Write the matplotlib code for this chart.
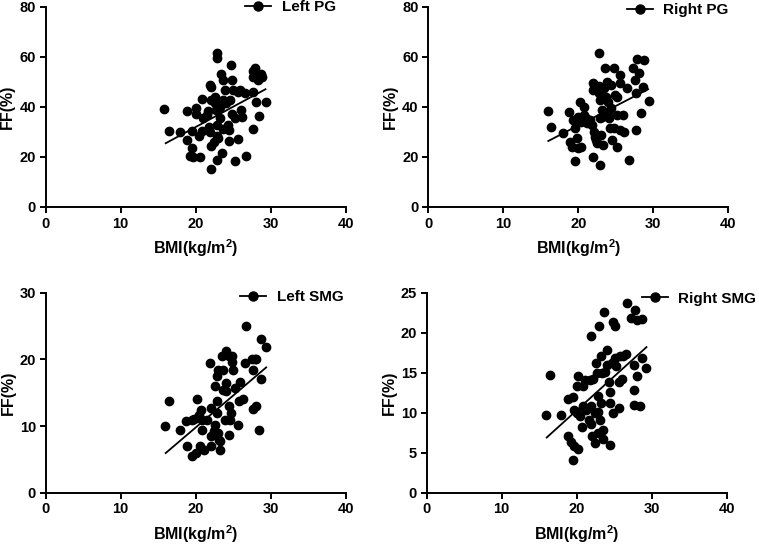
import matplotlib
matplotlib.use('Agg')
import matplotlib.pyplot as plt
from matplotlib.lines import Line2D

plt.rcParams['font.family'] = ['Liberation Sans', 'DejaVu Sans']
plt.rcParams['font.weight'] = 'bold'
plt.rcParams['mathtext.fontset'] = 'custom'
plt.rcParams['mathtext.bf'] = 'Liberation Sans:bold'
plt.rcParams['mathtext.rm'] = 'Liberation Sans:bold'

# Left parotid gland
left_pg_bmi = [15.8, 16.4, 17.9, 18.8, 18.9, 19.5, 19.5, 19.2, 19.7, 20.1, 20.0, 20.4, 20.6, 20.8,
               21.0, 20.8, 21.5, 21.7, 21.8, 21.9, 22.0, 22.0, 21.9, 22.0, 22.4, 22.0, 22.6, 22.6,
               22.7, 22.8, 22.8, 22.8, 22.9, 22.8, 23.3, 23.3, 23.4, 23.5, 23.6, 23.7, 23.6, 23.9,
               24.0, 24.3, 24.5, 24.6, 24.5, 24.7, 24.9, 24.9, 25.2, 25.2, 25.6, 25.7, 25.9, 26.0,
               26.2, 26.6, 26.7, 27.6, 27.7, 27.7, 27.9, 27.7, 28.0, 28.3, 28.4, 28.7, 28.8, 29.4,
               25.0, 23.0]
left_pg_ff = [39.2, 30.4, 30.1, 38.4, 26.8, 30.5, 23.5, 20.5, 20.1, 39.5, 37.2, 28.4, 20.1, 43.1,
              35.5, 30.4, 36.8, 38.4, 32.1, 48.8, 48.1, 42.8, 30.1, 24.4, 26.1, 15.2, 44.1, 41.5,
              38.8, 32.8, 28.4, 61.5, 59.5, 18.8, 40.1, 35.5, 53.2, 21.7, 50.8, 42.8, 31.2, 46.8,
              41.7, 32.8, 30.8, 42.8, 26.5, 56.8, 50.8, 37.1, 35.5, 18.4, 46.1, 27.1, 46.8, 38.8,
              36.1, 45.5, 20.5, 54.5, 46.1, 31.2, 55.5, 52.1, 41.9, 50.8, 36.4, 53.2, 51.9, 41.9,
              46.8, 27.5]
left_pg_fit_x = [16.0, 29.3]
left_pg_fit_y = [25.5, 47.1]

# Right parotid gland
right_pg_bmi = [15.9, 16.4, 17.9, 18.8, 18.9, 19.2, 19.5, 19.3, 19.6, 19.8, 20.0, 20.0, 20.2, 20.4,
                20.4, 20.8, 20.8, 21.0, 21.1, 21.6, 21.8, 22.0, 22.0, 22.0, 22.1, 22.2, 22.4, 22.5,
                22.7, 22.8, 22.8, 22.9, 22.9, 22.9, 23.0, 23.1, 23.2, 23.3, 23.4, 23.6, 23.7, 23.8,
                23.9, 24.0, 24.1, 24.2, 24.3, 24.4, 24.5, 24.7, 24.7, 24.9, 25.1, 25.2, 25.2, 25.6,
                25.6, 25.6, 26.0, 26.1, 26.5, 26.7, 27.3, 27.6, 27.7, 27.7, 27.8, 28.1, 28.4, 28.6,
                28.8, 29.4]
right_pg_ff = [38.4, 31.9, 29.5, 37.9, 26.1, 24.1, 18.5, 34.8, 31.5, 27.5, 23.5, 36.1, 42.1, 34.1,
               24.1, 40.1, 36.8, 35.5, 33.5, 34.8, 32.8, 49.5, 46.8, 19.9, 30.1, 28.1, 26.8, 25.5,
               48.4, 45.7, 61.7, 42.8, 35.5, 16.8, 28.8, 38.8, 36.1, 24.8, 47.5, 55.5, 44.1, 50.1,
               42.1, 38.1, 35.5, 31.5, 48.8, 39.5, 26.8, 55.5, 31.5, 44.8, 44.1, 36.8, 23.9, 52.8,
               49.5, 30.8, 36.8, 30.1, 47.5, 18.8, 55.5, 50.8, 30.8, 45.5, 59.1, 53.5, 37.7, 47.9,
               58.8, 42.5]
right_pg_fit_x = [16.0, 29.3]
right_pg_fit_y = [26.4, 47.1]

# Left submandibular gland
left_smg_bmi = [15.9, 16.4, 17.9, 18.7, 18.9, 19.5, 19.5, 19.8, 20.1, 20.2, 20.4, 20.6, 20.7, 20.8,
                20.9, 21.1, 21.5, 21.9, 22.0, 22.0, 22.1, 22.4, 22.6, 22.6, 22.8, 22.8, 22.9, 23.0,
                23.1, 23.2, 23.3, 23.5, 23.6, 23.7, 23.9, 24.1, 24.1, 24.4, 24.5, 24.5, 24.6, 24.7,
                24.8, 24.9, 25.0, 25.2, 25.7, 25.9, 25.8, 26.3, 26.6, 26.7, 27.5, 27.6, 27.7, 27.9,
                28.0, 28.1, 28.4, 28.7, 28.7, 29.4, 24.0, 23.0]
left_smg_ff = [9.95, 13.8, 9.45, 10.7, 7.05, 5.45, 10.95, 11.05, 5.95, 14.1, 11.7, 6.95, 12.45, 9.35,
               10.95, 6.45, 10.95, 19.45, 12.7, 8.45, 6.95, 9.2, 15.95, 10.2, 17.45, 13.7, 11.95, 18.45,
               7.95, 6.45, 7.7, 20.45, 18.45, 15.45, 10.95, 21.2, 15.2, 20.55, 12.95, 8.7, 10.95, 11.95,
               19.55, 20.55, 18.35, 15.7, 10.2, 16.55, 13.7, 14.05, 19.45, 24.95, 20.05, 12.55, 18.45, 20.05,
               12.95, 20.05, 9.45, 23.1, 17.1, 21.8, 16.45, 8.95]
left_smg_fit_x = [16.0, 29.4]
left_smg_fit_y = [5.95, 18.8]

# Right submandibular gland
right_smg_bmi = [15.9, 16.4, 17.9, 18.8, 18.9, 19.5, 19.2, 19.5, 19.6, 19.7, 20.0, 20.2, 20.2, 20.1,
                 20.4, 20.7, 20.8, 20.9, 21.1, 21.3, 21.6, 21.8, 21.9, 21.9, 21.9, 22.0, 22.2, 22.4,
                 22.4, 22.6, 22.7, 22.8, 22.9, 22.9, 23.0, 23.1, 23.2, 23.3, 23.4, 23.5, 23.6, 23.8,
                 24.0, 24.1, 24.3, 24.4, 24.4, 24.4, 24.7, 24.8, 24.9, 25.1, 25.1, 25.3, 25.6, 25.7,
                 25.8, 26.1, 26.2, 26.6, 26.7, 27.3, 27.6, 27.6, 27.7, 27.8, 28.0, 28.1, 28.4, 28.7,
                 28.7, 29.3, 23.5]
right_smg_ff = [9.75, 14.7, 9.75, 11.7, 7.15, 12.0, 6.4, 4.1, 10.4, 5.9, 9.95, 5.5, 14.55, 13.3,
                9.55, 8.2, 13.3, 10.8, 14.05, 10.4, 9.1, 14.1, 10.8, 19.65, 8.6, 7.05, 14.2, 6.2,
                9.95, 16.2, 14.95, 10.15, 12.05, 7.45, 20.8, 9.1, 11.2, 17.05, 14.95, 6.75, 22.55, 15.15,
                16.0, 17.9, 13.9, 11.2, 12.55, 6.0, 16.2, 9.95, 21.3, 20.8, 16.8, 15.8, 13.9, 10.6,
                17.05, 14.2, 17.15, 17.35, 23.7, 21.85, 12.9, 16.0, 11.0, 22.9, 14.55, 21.6, 10.8, 21.7,
                16.8, 15.65, 7.9]
right_smg_fit_x = [16.0, 29.3]
right_smg_fit_y = [6.9, 18.2]

panels = [
    ('Left PG', left_pg_bmi, left_pg_ff, left_pg_fit_x, left_pg_fit_y, [0, 20, 40, 60, 80]),
    ('Right PG', right_pg_bmi, right_pg_ff, right_pg_fit_x, right_pg_fit_y, [0, 20, 40, 60, 80]),
    ('Left SMG', left_smg_bmi, left_smg_ff, left_smg_fit_x, left_smg_fit_y, [0, 10, 20, 30]),
    ('Right SMG', right_smg_bmi, right_smg_ff, right_smg_fit_x, right_smg_fit_y, [0, 5, 10, 15, 20, 25]),
]

# axes rectangles (figure fraction) and legend anchors (axes fraction)
rects = [
    [0.0602, 0.6209, 0.3953, 0.3663],
    [0.5643, 0.6209, 0.3953, 0.3663],
    [0.0602, 0.0976, 0.3953, 0.3663],
    [0.5622, 0.0976, 0.3953, 0.3663],
]
legend_anchor = [(0.664, 0.998), (0.661, 0.985), (0.648, 0.979), (0.717, 0.97)]

fig = plt.figure(figsize=(7.59, 5.46), dpi=100)

for i, (name, bmi, ff, fx, fy, yticks) in enumerate(panels):
    ax = fig.add_axes(rects[i])
    ax.scatter(bmi, ff, s=36, color='black', zorder=3, clip_on=False)
    ax.plot(fx, fy, color='black', linewidth=1.3, zorder=2)

    ax.set_xlim(0, 40)
    ax.set_ylim(yticks[0], yticks[-1])
    ax.set_xticks([0, 10, 20, 30, 40])
    ax.set_yticks(yticks)
    for side in ['top', 'right']:
        ax.spines[side].set_visible(False)
    for side in ['left', 'bottom']:
        ax.spines[side].set_linewidth(1.4)
    ax.tick_params(direction='out', length=4, width=1.4, labelsize=10.5, pad=3)
    for lbl in ax.get_xticklabels() + ax.get_yticklabels():
        lbl.set_fontweight('bold')

    ax.set_xlabel(r'BMI(kg/m$^{\mathbf{2}}$)', fontsize=11.5, fontweight='bold', labelpad=5)
    ax.set_ylabel('FF(%)', fontsize=11.5, fontweight='bold', labelpad=3)

    handle = Line2D([], [], color='black', marker='o', markersize=6.5, linewidth=1.3)
    ax.legend([handle], [name], loc='center left', bbox_to_anchor=legend_anchor[i],
              frameon=False, borderpad=0, borderaxespad=0, handlelength=1.7,
              handletextpad=0.7, prop={'weight': 'bold', 'size': 11})

fig.savefig('out.png', dpi=100)
